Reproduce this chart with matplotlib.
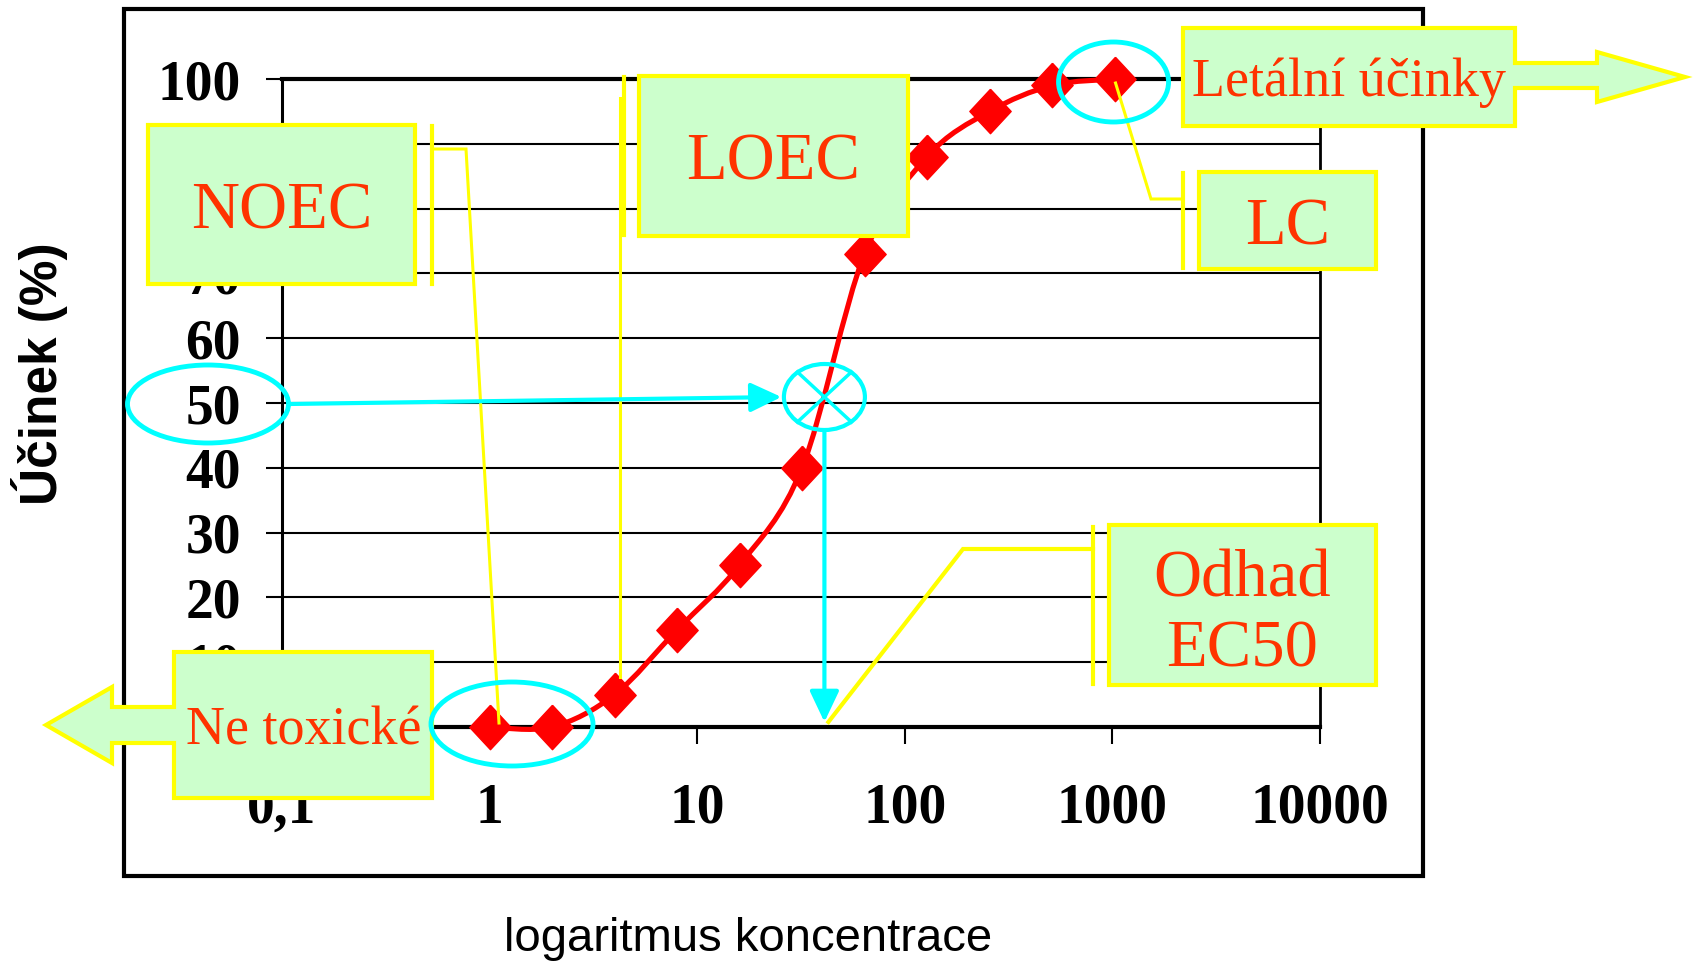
import numpy as np
import matplotlib
matplotlib.use('Agg')
import matplotlib.pyplot as plt
from matplotlib.patches import Rectangle, Ellipse, Polygon, PathPatch
from matplotlib.path import Path
from matplotlib.ticker import NullLocator

# Data
koncentrace = [1, 2, 4, 8, 16, 32, 64, 128, 256, 512, 1024]
ucinek = [0, 0, 5, 15, 25, 40, 73, 88, 95, 99, 100]
x_ticks = [0.1, 1, 10, 100, 1000, 10000]
x_tick_labels = ['0,1', '1', '10', '100', '1000', '10000']
y_ticks = [0, 10, 20, 30, 40, 50, 60, 70, 80, 90, 100]
ec50 = 41

W, H = 1701, 969
RED = '#FF0000'
TXT = '#FF3300'
GREEN = '#CCFFCC'
YEL = '#FFFF00'
CYAN = '#00FFFF'
SERIF = 'Liberation Serif'
SANS = 'Liberation Sans'


def smooth_path(xs, ys):
    # bezier through the points (done in log-x space, like Excel's smoothed line)
    pts = np.column_stack([np.log10(xs), np.asarray(ys, float)])
    n = len(pts)
    verts = [pts[0]]
    codes = [Path.MOVETO]
    for i in range(n - 1):
        p0 = pts[max(i - 1, 0)]
        p1 = pts[i]
        p2 = pts[i + 1]
        p3 = pts[min(i + 2, n - 1)]
        verts += [p1 + (p2 - p0) / 6, p2 - (p3 - p1) / 6, p2]
        codes += [Path.CURVE4] * 3
    verts = np.array(verts)
    verts[:, 0] = 10 ** verts[:, 0]
    return Path(verts, codes)


fig = plt.figure(figsize=(W / 100, H / 100), dpi=100)
ax = fig.add_axes([282 / W, 1 - 727 / H, 1038 / W, 648 / H])
ax.set_xscale('log')
ax.set_xlim(0.1, 10000)
ax.set_ylim(0, 100)

# grid + frame of the plot area
ax.yaxis.grid(True, color='black', lw=1.5)
ax.set_axisbelow(True)
for side, lw in [('left', 2.2), ('bottom', 3), ('top', 3), ('right', 2)]:
    ax.spines[side].set_linewidth(lw)
    ax.spines[side].set_color('black')

ax.set_xticks(x_ticks)
ax.set_xticklabels(x_tick_labels, fontfamily=SERIF, fontweight='bold', fontsize=40)
ax.xaxis.set_minor_locator(NullLocator())
ax.set_yticks(y_ticks)
ax.set_yticklabels([str(v) for v in y_ticks], fontfamily=SERIF, fontweight='bold', fontsize=40)
ax.tick_params(axis='x', direction='out', length=12, width=1.5, pad=28)
ax.tick_params(axis='y', direction='out', length=11.5, width=1.5, pad=18)

ax.set_ylabel('Účinek (%)', fontsize=37, fontweight='bold', family=SANS, va='center')
ax.yaxis.set_label_coords((40 - 282) / 1038, (727 - 374) / 648)
ax.set_xlabel('logaritmus koncentrace', fontsize=34, family=SANS, va='center')
ax.xaxis.set_label_coords((748 - 282) / 1038, (727 - 939) / 648)

# the curve
ax.add_patch(PathPatch(smooth_path(koncentrace, ucinek), fill=False, ec=RED, lw=3.7,
                       clip_on=False, zorder=3))
diamond = [(0, 1), (0.93, 0), (0, -1), (-0.93, 0), (0, 1)]
ax.plot(koncentrace, ucinek, ls='none', marker=diamond, ms=32, color=RED,
        mec=RED, clip_on=False, zorder=4)


def to_px(x, y):
    dx, dy = ax.transData.transform((x, y))
    return dx, H - dy


# overlay in pixel coordinates for the annotations
ov = fig.add_axes([0, 0, 1, 1], zorder=5)
ov.set_xlim(0, W)
ov.set_ylim(H, 0)
ov.axis('off')

# outer frame
ov.add_patch(Rectangle((124, 9), 1423 - 124, 876 - 9, fill=False, ec='black', lw=3, zorder=1))


def box(x0, y0, x1, y1, text, size, dy=7, **kw):
    ov.add_patch(Rectangle((x0, y0), x1 - x0, y1 - y0, fc=GREEN, ec=YEL, lw=3, zorder=3))
    ov.text((x0 + x1) / 2, (y0 + y1) / 2 + dy, text, color=TXT, fontsize=size, family=SERIF,
            ha='center', va='center', zorder=4, **kw)


def yline(pts, lw=2.2):
    xs, ys = zip(*pts)
    ov.plot(xs, ys, color=YEL, lw=lw, solid_joinstyle='miter', zorder=2)


def arrow(start, end):
    ov.annotate('', xy=end, xytext=start,
                arrowprops=dict(arrowstyle='-|>,head_length=0.95,head_width=0.45',
                                color=CYAN, lw=3, mutation_scale=20,
                                shrinkA=0, shrinkB=0), zorder=6)


# NOEC
yline([(433, 149), (466, 149), (499, 723)])
yline([(432, 126), (432, 284)], lw=3)
box(148, 125, 415, 284, 'NOEC', 48)

# LOEC
yline([(620, 98), (620, 677)])
yline([(624, 77), (624, 235)], lw=3)
box(639, 76, 908, 236, 'LOEC', 48)

# Letální účinky (right arrow callout)
ov.add_patch(Polygon([(1183, 28), (1515, 28), (1515, 63), (1597, 63), (1597, 52), (1685, 77),
                      (1597, 102), (1597, 88), (1515, 88), (1515, 126), (1183, 126)],
                     closed=True, fc=GREEN, ec=YEL, lw=3, joinstyle='miter', zorder=3))
ov.text(1349, 83, 'Letální účinky', color=TXT, fontsize=39, family=SERIF,
        ha='center', va='center', zorder=4)

# LC
lx, ly = to_px(koncentrace[-1], ucinek[-1])
yline([(1183, 199), (1151, 199), (lx + 1, ly + 4)])
yline([(1183, 173), (1183, 268)], lw=3)
box(1199, 172, 1376, 269, 'LC', 48)
ov.add_patch(Ellipse((lx - 1, ly + 3), 110, 80, fill=False, ec=CYAN, lw=3.5, zorder=5))

# Ne toxické (left arrow callout)
ov.add_patch(Polygon([(432, 652), (432, 798), (174, 798), (174, 743), (112, 743), (112, 763),
                      (46, 725), (112, 687), (112, 707), (174, 707), (174, 652)],
                     closed=True, fc=GREEN, ec=YEL, lw=3, joinstyle='miter', zorder=3))
ov.text(304, 731, 'Ne toxické', color=TXT, fontsize=39, family=SERIF,
        ha='center', va='center', zorder=4)
ov.add_patch(Ellipse((512, 724), 162, 84, fill=False, ec=CYAN, lw=3.5, zorder=5))

# EC50 estimate
ex, ey = to_px(ec50, 50)
ey -= 6
ov.add_patch(Ellipse((208, 404), 161, 78, fill=False, ec=CYAN, lw=3.5, zorder=5))
arrow((289, 404), (ex - 43, ey))
ov.add_patch(Ellipse((ex, ey), 81, 66, fill=False, ec=CYAN, lw=3, zorder=5))
ov.plot([ex - 27, ex + 27], [ey - 25, ey + 25], color=CYAN, lw=2.5, zorder=5)
ov.plot([ex - 27, ex + 27], [ey + 25, ey - 25], color=CYAN, lw=2.5, zorder=5)
arrow((ex, ey + 33), (ex, 722))

yline([(1093, 549), (963, 549), (ex + 4, 722)], lw=3)
yline([(1093, 527), (1093, 684)], lw=3)
box(1109, 525, 1376, 685, 'Odhad\nEC50', 48, dy=10, linespacing=1.2)

fig.savefig('out.png', dpi=100)
